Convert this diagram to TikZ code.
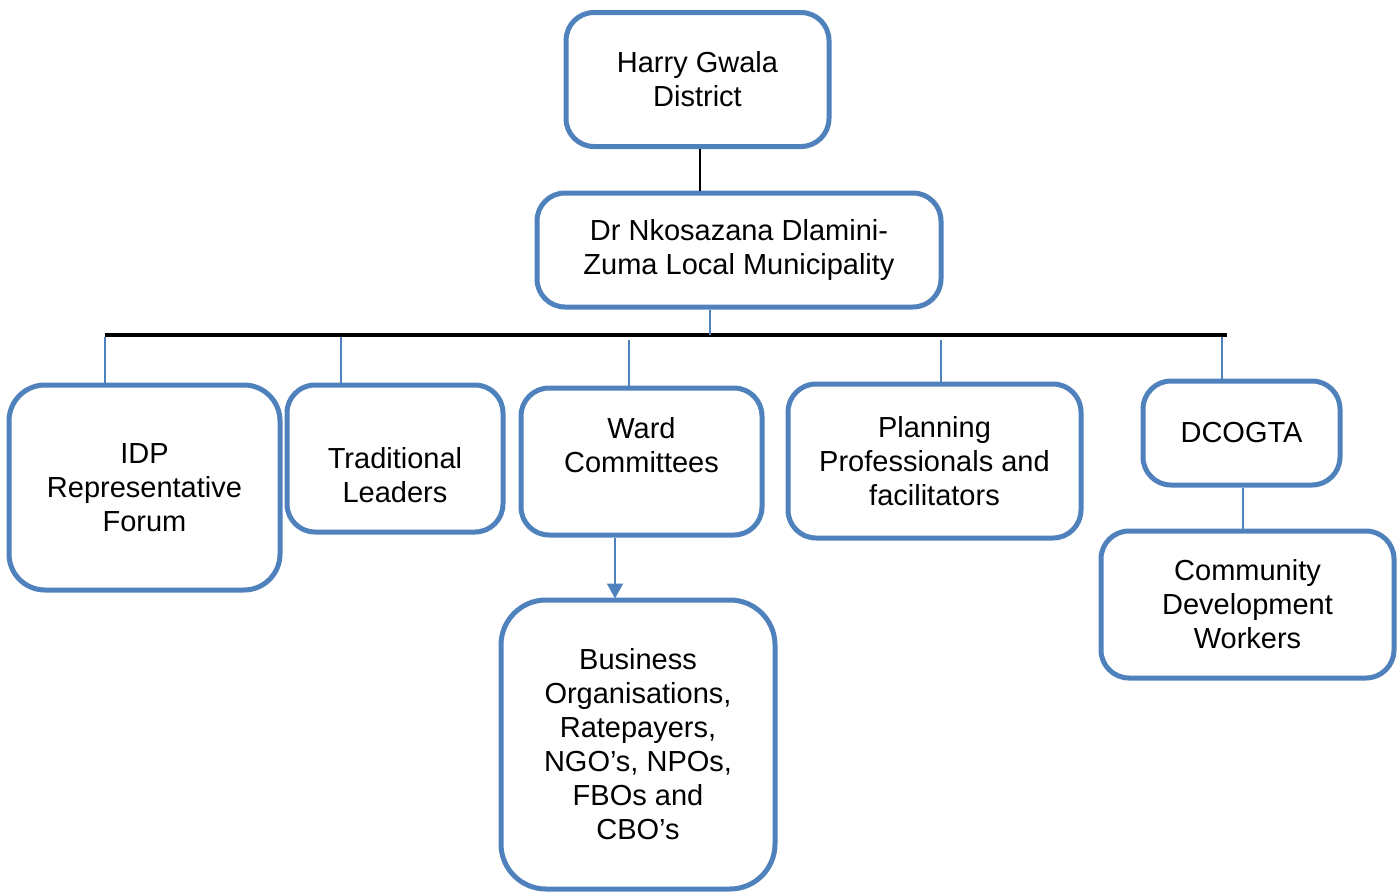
\documentclass[tikz,border=0pt]{standalone}
\usepackage{fontspec}
\setmainfont{Liberation Sans}
\usetikzlibrary{arrows.meta}
\definecolor{boxblue}{HTML}{4F81BD}
\tikzset{
  orgbox/.style={draw=boxblue, line width=5pt, rounded corners=28pt, fill=white, inner sep=0pt, align=center, font=\fontsize{29}{34}\selectfont},
  txt/.style={align=center, inner sep=0pt, font=\fontsize{29}{34}\selectfont},
  link/.style={draw=boxblue, line width=2pt},
  blk/.style={draw=black, line width=2pt},
  bar/.style={draw=black, line width=4.5pt}
}
\begin{document}
\begin{tikzpicture}[x=1pt,y=-1pt]
\useasboundingbox (0,0) rectangle (1400,892);
% boxes
\node[orgbox, minimum width=263pt, minimum height=134pt] (hg) at (697.5,79.5) {Harry Gwala\\District};
\node[orgbox, minimum width=404pt, minimum height=114pt] (dn) at (739,250) {Dr Nkosazana Dlamini-\\Zuma Local Municipality};
\node[orgbox, minimum width=271pt, minimum height=205pt, rounded corners=36pt] (idp) at (144.5,487.5) {IDP\\Representative\\Forum};
\node[orgbox, minimum width=216pt, minimum height=147pt] (tl) at (395,458.5) {};
\node[txt] (tlt) at (395,475) {Traditional\\Leaders};
\node[orgbox, minimum width=241pt, minimum height=147pt] (wc) at (641.5,461.5) {};
\node[txt] (wct) at (641.5,445) {Ward\\Committees};
\node[orgbox, minimum width=293pt, minimum height=154pt] (pp) at (934.5,461) {Planning\\Professionals and\\facilitators};
\node[orgbox, minimum width=197pt, minimum height=104pt] (dc) at (1241.5,433) {DCOGTA};
\node[orgbox, minimum width=293pt, minimum height=147pt] (cdw) at (1247.5,604.5) {Community\\Development\\Workers};
\node[orgbox, minimum width=274pt, minimum height=289pt, rounded corners=45pt] (bo) at (638,744.5) {Business\\Organisations,\\Ratepayers,\\NGO’s, NPOs,\\FBOs and\\CBO’s};
% bar
\coordinate (bl) at (105,335);
\coordinate (br) at (1227,335);
\draw[bar] (bl) -- (br);
% connectors
\draw[blk] (hg.south -| 700,0) -- (dn.north -| 700,0);
\draw[link] (dn.south -| 710,0) -- (710,335);
\draw[link] (105,337) -- (idp.north -| 105,0);
\draw[link] (341,337) -- (tl.north -| 341,0);
\draw[link] (629,340) -- (wc.north -| 629,0);
\draw[link] (941,340) -- (pp.north -| 941,0);
\draw[link] (1222,337) -- (dc.north -| 1222,0);
\draw[link] (dc.south -| 1243,0) -- (cdw.north -| 1243,0);
\draw[link, -{Triangle[width=16pt,length=15pt]}, shorten >=-1pt] (wc.south -| 615,0) -- (bo.north -| 615,0);
\end{tikzpicture}
\end{document}
